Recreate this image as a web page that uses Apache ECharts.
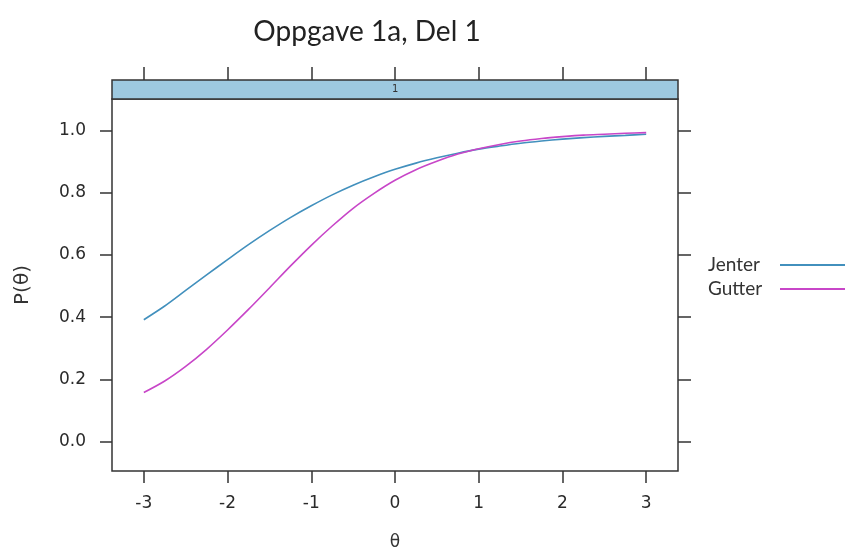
<!DOCTYPE html>
<html>
<head>
<meta charset="utf-8">
<script src="https://cdn.jsdelivr.net/npm/echarts@6/dist/echarts.min.js"></script>
<style>html,body{margin:0;padding:0;background:#fff;}#chart{width:845px;height:548px;}</style>
</head>
<body>
<div id="chart"></div>
<script>
// Data
const theta = [-3, -2.75, -2.5, -2.25, -2, -1.75, -1.5, -1.25, -1, -0.75, -0.5, -0.25, 0,
               0.25, 0.5, 0.75, 1, 1.25, 1.5, 1.75, 2, 2.25, 2.5, 2.75, 3];
const jenter = [0.392, 0.436, 0.486, 0.536, 0.585, 0.633, 0.678, 0.720, 0.758, 0.793, 0.824, 0.851, 0.875,
                0.895, 0.912, 0.927, 0.940, 0.950, 0.959, 0.966, 0.972, 0.977, 0.981, 0.984, 0.988];
const gutter = [0.158, 0.195, 0.242, 0.297, 0.359, 0.425, 0.494, 0.564, 0.631, 0.693, 0.750, 0.798, 0.840,
                0.874, 0.901, 0.924, 0.941, 0.955, 0.966, 0.974, 0.980, 0.985, 0.988, 0.991, 0.993];
const xTicks = [-3, -2, -1, 0, 1, 2, 3];
const yTicks = [0, 0.2, 0.4, 0.6, 0.8, 1.0];
const seriesNames = ['Jenter', 'Gutter'];
const stripLabel = '1';
const titleText = 'Oppgave 1a, Del 1';

const XMIN = -3.38, XMAX = 3.38, YMIN = -0.094, YMAX = 1.101;
const axisCol = '#333';
const labelFont = {fontFamily: 'DejaVu Sans, sans-serif', fontSize: 17, color: '#2a2a2a'};
const hiddenLine = {show: false, onZero: false};

const chart = echarts.init(document.getElementById('chart'), null, {renderer: 'canvas'});
chart.setOption({
  animation: false,
  backgroundColor: '#fff',
  title: {
    text: titleText, left: 362, top: 13, textAlign: 'center',
    textStyle: {fontFamily: 'Lato, sans-serif', fontSize: 28, fontWeight: 'normal', color: '#222'}
  },
  legend: {
    orient: 'vertical', left: 703, top: 250, align: 'right',
    itemWidth: 66, itemHeight: 2, itemGap: 4, icon: 'rect',
    formatter: '{a|{name}}',
    textStyle: {
      fontFamily: 'Lato, sans-serif', fontSize: 19, color: '#333', lineHeight: 20,
      rich: {a: {width: 67, align: 'left', fontFamily: 'Lato, sans-serif', fontSize: 19, color: '#333', lineHeight: 20}}
    },
    data: seriesNames
  },
  grid: [
    {left: 112, top: 99, width: 566, height: 372, show: true, borderColor: axisCol, borderWidth: 1.5,
     backgroundColor: '#fff', containLabel: false, outerBoundsMode: 'none'},
    {left: 112, top: 80, width: 566, height: 19, show: true, borderColor: axisCol, borderWidth: 1.5,
     backgroundColor: '#9dc9e0', containLabel: false, outerBoundsMode: 'none'}
  ],
  xAxis: [
    {
      type: 'value', gridIndex: 0, min: XMIN, max: XMAX, position: 'bottom',
      name: 'θ', nameLocation: 'middle', nameGap: 63,
      nameTextStyle: {fontFamily: 'DejaVu Sans, sans-serif', fontSize: 17, color: '#333'},
      axisLine: hiddenLine, splitLine: {show: false},
      axisTick: {show: true, inside: false, length: 12, customValues: xTicks, lineStyle: {color: axisCol, width: 1.5}},
      axisLabel: Object.assign({show: true, margin: 24, customValues: xTicks, formatter: v => String(v)}, labelFont)
    },
    {
      type: 'value', gridIndex: 1, min: XMIN, max: XMAX, position: 'top',
      axisLine: hiddenLine, splitLine: {show: false},
      axisTick: {show: true, inside: false, length: 13, customValues: xTicks, lineStyle: {color: axisCol, width: 1.5}},
      axisLabel: {show: false}
    }
  ],
  yAxis: [
    {
      type: 'value', gridIndex: 0, min: YMIN, max: YMAX, position: 'left',
      name: 'P(θ)', nameLocation: 'middle', nameGap: 79, nameRotate: 90,
      nameTextStyle: {fontFamily: 'DejaVu Sans, sans-serif', fontSize: 20, color: '#333'},
      axisLine: hiddenLine, splitLine: {show: false},
      axisTick: {show: true, inside: false, length: 12, customValues: yTicks, lineStyle: {color: axisCol, width: 1.5}},
      axisLabel: Object.assign({show: true, margin: 26, customValues: yTicks, formatter: v => v.toFixed(1)}, labelFont)
    },
    {
      type: 'value', gridIndex: 0, min: YMIN, max: YMAX, position: 'right',
      axisLine: hiddenLine, splitLine: {show: false},
      axisTick: {show: true, inside: false, length: 13, customValues: yTicks, lineStyle: {color: axisCol, width: 1.5}},
      axisLabel: {show: false}
    },
    {
      type: 'value', gridIndex: 1, min: 0, max: 1, show: false
    }
  ],
  graphic: [
    {type: 'text', left: 392, top: 84, style: {text: stripLabel, fontFamily: 'DejaVu Sans, sans-serif', fontSize: 10, fill: '#333'}}
  ],
  series: [
    {
      name: seriesNames[0], type: 'line', xAxisIndex: 0, yAxisIndex: 0,
      data: theta.map((t, i) => [t, jenter[i]]),
      showSymbol: false, smooth: 0.3,
      lineStyle: {color: '#4290bd', width: 1.6}, itemStyle: {color: '#4290bd'}
    },
    {
      name: seriesNames[1], type: 'line', xAxisIndex: 0, yAxisIndex: 0,
      data: theta.map((t, i) => [t, gutter[i]]),
      showSymbol: false, smooth: 0.3,
      lineStyle: {color: '#c846c8', width: 1.6}, itemStyle: {color: '#c846c8'}
    }
  ]
});
</script>
</body>
</html>
